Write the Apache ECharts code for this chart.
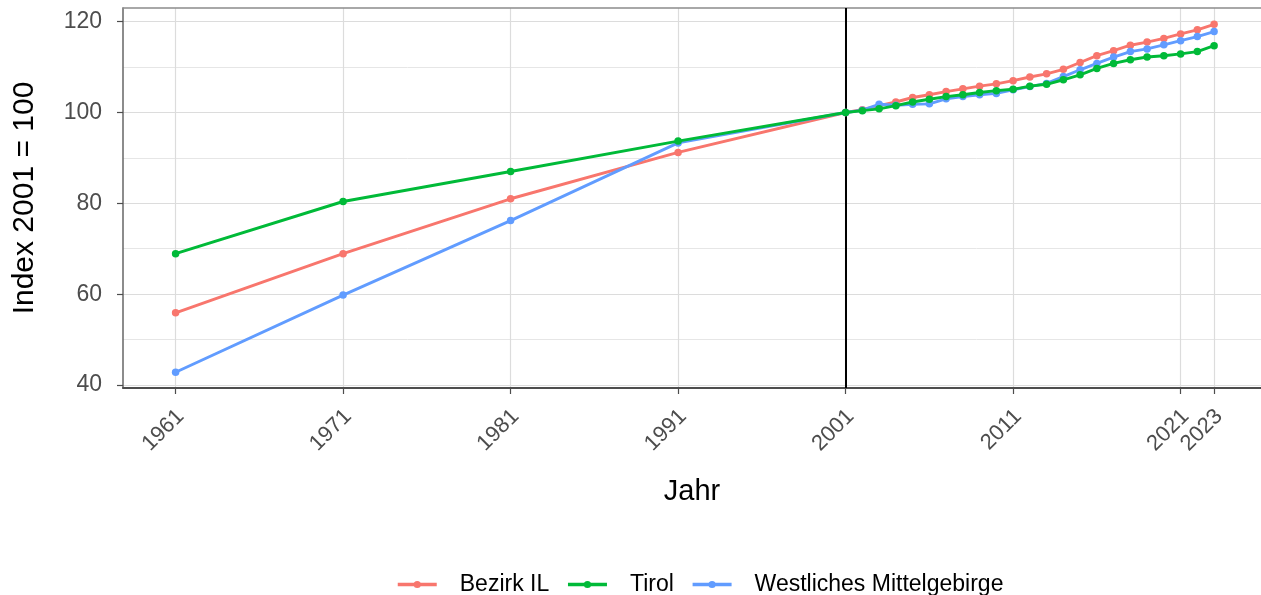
<!DOCTYPE html>
<html>
<head>
<meta charset="utf-8">
<script src="https://cdn.jsdelivr.net/npm/echarts@6/dist/echarts.min.js"></script>
<style>
html,body{margin:0;padding:0;background:#fff;}
#chart{width:1261px;height:595px;}
</style>
</head>
<body>
<div id="chart"></div>
<script>
const years = [1961, 1971, 1981, 1991, 2001, 2002, 2003, 2004, 2005, 2006, 2007, 2008, 2009, 2010, 2011, 2012, 2013, 2014, 2015, 2016, 2017, 2018, 2019, 2020, 2021, 2022, 2023];
const bezirkIL = [55.9, 68.9, 81.0, 91.2, 100, 100.6, 101.5, 102.3, 103.3, 103.9, 104.6, 105.2, 105.8, 106.3, 107.0, 107.8, 108.5, 109.5, 111.0, 112.5, 113.6, 114.8, 115.5, 116.3, 117.3, 118.2, 119.4];
const tirol = [68.9, 80.4, 87.0, 93.7, 100, 100.4, 100.8, 101.5, 102.3, 102.9, 103.5, 103.9, 104.4, 104.8, 105.1, 105.8, 106.2, 107.2, 108.3, 109.7, 110.8, 111.6, 112.2, 112.5, 112.9, 113.4, 114.7];
const westMittelgebirge = [42.8, 59.8, 76.2, 93.3, 100, 100.5, 101.8, 101.6, 101.8, 101.9, 103.0, 103.5, 103.9, 104.2, 105.0, 105.7, 106.4, 107.9, 109.4, 110.8, 112.2, 113.4, 114.0, 114.9, 115.8, 116.7, 117.8];
const seriesNames = ['Bezirk IL', 'Tirol', 'Westliches Mittelgebirge'];
const xTicks = [1961, 1971, 1981, 1991, 2001, 2011, 2021, 2023];
const yTicks = [40, 60, 80, 100, 120];
const yMinorTicks = [50, 70, 90, 110];
const vlineYear = 2001;

const colors = ['#F8766D', '#00BA38', '#619CFF'];
const FONT = '"Liberation Sans", Arial, sans-serif';
const pairs = vals => years.map((y, i) => [y, vals[i]]);

const chart = echarts.init(document.getElementById('chart'), null, {renderer: 'canvas'});

const xMin = 1957.86, xMax = 2025.8, yMin = 39.34, yMax = 123.0;

function mkSeries(name, vals, color, z) {
  return {
    name: name,
    type: 'line',
    data: pairs(vals),
    z: z,
    symbol: 'circle',
    symbolSize: 7.5,
    showSymbol: true,
    lineStyle: {color: color, width: 2.9},
    itemStyle: {color: color},
    emphasis: {disabled: true},
    animation: false
  };
}

const series = [
  mkSeries(seriesNames[0], bezirkIL, colors[0], 3),
  mkSeries(seriesNames[1], tirol, colors[1], 5),
  mkSeries(seriesNames[2], westMittelgebirge, colors[2], 4)
];
series[0].markLine = {
  silent: true,
  symbol: ['none', 'none'],
  label: {show: false},
  lineStyle: {color: '#000', width: 2, type: 'solid'},
  z: 2,
  animation: false,
  data: [{xAxis: vlineYear}]
};

chart.setOption({
  backgroundColor: '#fff',
  animation: false,
  textStyle: {fontFamily: FONT},
  color: colors,
  grid: {left: 123, right: 0, top: 8, bottom: 207, containLabel: false},
  legend: {
    data: seriesNames,
    top: 568,
    left: 391,
    itemWidth: 39,
    itemHeight: 9,
    itemGap: 17,
    lineStyle: {width: 3.5},
    textStyle: {fontSize: 23, color: '#000', fontFamily: FONT, padding: [0, 0, 0, 18]},
    selectedMode: false
  },
  xAxis: [{
    type: 'value',
    min: xMin,
    max: xMax,
    position: 'bottom',
    name: 'Jahr',
    nameLocation: 'middle',
    nameGap: 89,
    nameTextStyle: {fontSize: 29, color: '#000', fontFamily: FONT},
    axisLine: {show: true, onZero: false, lineStyle: {color: '#4d4d4d', width: 2}},
    axisTick: {show: true, customValues: xTicks, length: 6, lineStyle: {color: '#4d4d4d', width: 1.2}},
    axisLabel: {customValues: xTicks, rotate: 45, fontSize: 22, color: '#4d4d4d', margin: 20,
      verticalAlign: 'top', lineHeight: 14, fontFamily: FONT,
      formatter: v => String(v)},
    splitLine: {show: true, lineStyle: {color: '#dcdcdc', width: 1.2}},
    minorSplitLine: {show: false}
  }, {
    type: 'value',
    min: xMin,
    max: xMax,
    position: 'top',
    axisLine: {show: true, onZero: false, lineStyle: {color: '#8c8c8c', width: 1.5}},
    axisTick: {show: false},
    axisLabel: {show: false},
    splitLine: {show: false}
  }],
  yAxis: [{
    type: 'value',
    min: yMin,
    max: yMax,
    position: 'left',
    name: 'Index 2001 = 100',
    nameLocation: 'middle',
    nameGap: 83,
    nameRotate: 90,
    nameTextStyle: {fontSize: 30, color: '#000', fontFamily: FONT},
    axisLine: {show: true, onZero: false, lineStyle: {color: '#666', width: 1.5}},
    axisTick: {show: true, customValues: yTicks, length: 6, lineStyle: {color: '#4d4d4d', width: 1.2}},
    axisLabel: {customValues: yTicks, fontSize: 23, color: '#4d4d4d', margin: 21, fontFamily: FONT},
    splitLine: {show: true, lineStyle: {color: '#dcdcdc', width: 1.2}}
  }, {
    type: 'value',
    min: yMin,
    max: yMax,
    position: 'left',
    axisLine: {show: false},
    axisTick: {show: false, customValues: yMinorTicks},
    axisLabel: {show: false, customValues: yMinorTicks},
    splitLine: {show: true, lineStyle: {color: '#e6e6e6', width: 1}}
  }],
  series: series
});
</script>
</body>
</html>
